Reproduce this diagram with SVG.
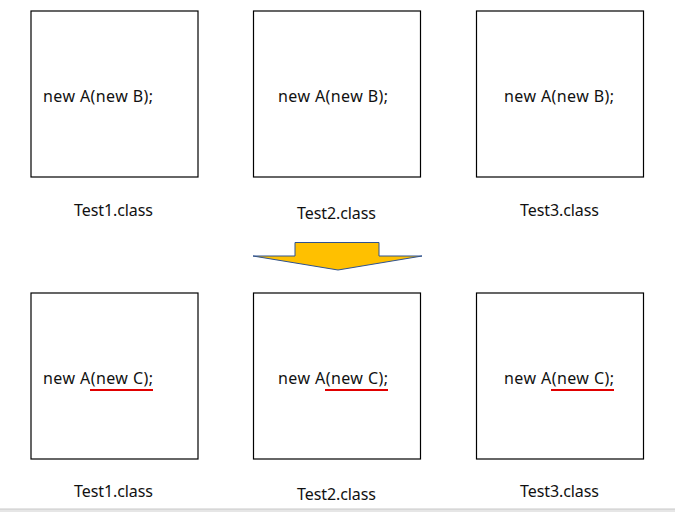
<svg xmlns="http://www.w3.org/2000/svg" width="675" height="512" viewBox="0 0 675 512">
<style>
.box{fill:#fff;stroke:#000;stroke-width:1.2}
.code{font-family:"Noto Sans","Liberation Sans",sans-serif;font-size:16px;fill:#111}
.lbl{font-family:"Noto Sans","Liberation Sans",sans-serif;font-size:16px;fill:#111}
.ul{stroke:#e00000;stroke-width:2}
</style>
<rect width="675" height="512" fill="#fff"/>
<g id="top1"><rect class="box" x="31" y="11" width="167" height="166"/><text class="code" x="43" y="102" textLength="110">new A(new B);</text></g>
<g id="top2"><rect class="box" x="253.5" y="11" width="167" height="166"/><text class="code" x="278" y="102" textLength="110">new A(new B);</text></g>
<g id="top3"><rect class="box" x="476.5" y="11" width="167" height="166"/><text class="code" x="504" y="102" textLength="110">new A(new B);</text></g>
<g id="lbltop">
<text class="lbl" x="74" y="216" textLength="79">Test1.class</text>
<text class="lbl" x="297" y="219" textLength="79">Test2.class</text>
<text class="lbl" x="520" y="216" textLength="79">Test3.class</text>
</g>
<g id="arrow"><polygon points="295,242.5 379,242.5 379,256 422,256 338,270 253,256 295,256" fill="#ffc000" stroke="#2f528f" stroke-width="1"/></g>
<g id="bot1"><rect class="box" x="31" y="293" width="167" height="166"/><text class="code" x="43" y="384" textLength="110">new A(new C);</text><line class="ul" x1="90" y1="390" x2="153" y2="390"/></g>
<g id="bot2"><rect class="box" x="253.5" y="293" width="167" height="166"/><text class="code" x="278" y="384" textLength="110">new A(new C);</text><line class="ul" x1="325" y1="390" x2="388" y2="390"/></g>
<g id="bot3"><rect class="box" x="476.5" y="293" width="167" height="166"/><text class="code" x="504" y="384" textLength="110">new A(new C);</text><line class="ul" x1="551" y1="390" x2="614" y2="390"/></g>
<g id="lblbot">
<text class="lbl" x="74" y="497" textLength="79">Test1.class</text>
<text class="lbl" x="297" y="500" textLength="79">Test2.class</text>
<text class="lbl" x="520" y="497" textLength="79">Test3.class</text>
</g>
<rect x="0" y="509" width="675" height="3" fill="#e6e6e6"/>
<line x1="0" y1="509" x2="675" y2="509" stroke="#c8c8c8" stroke-width="1"/>
</svg>
